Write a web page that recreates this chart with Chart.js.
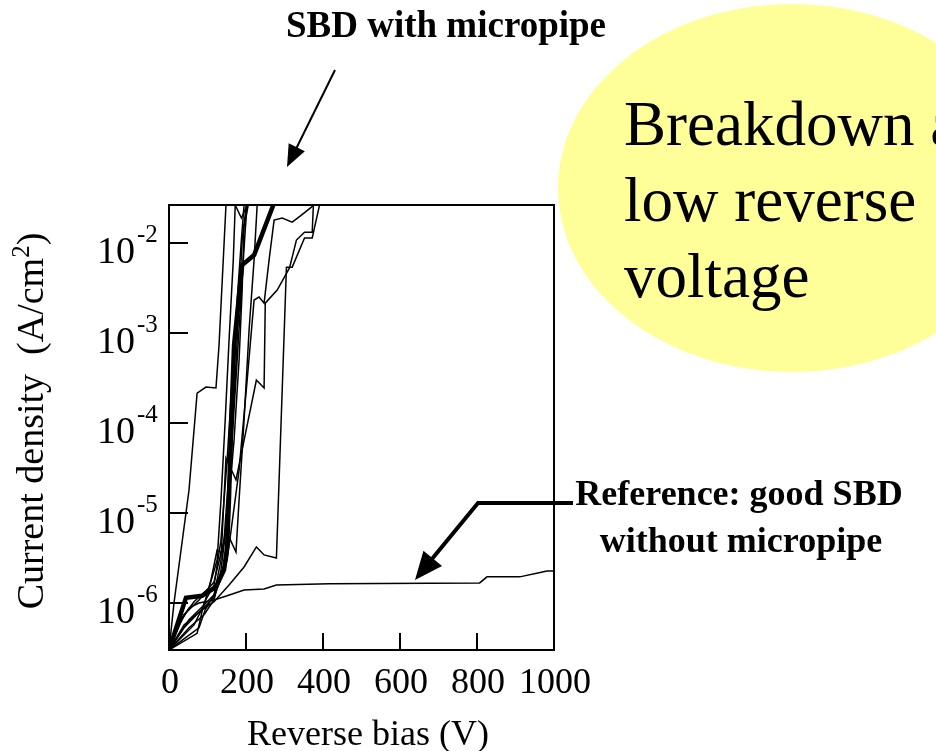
<!DOCTYPE html>
<html>
<head>
<meta charset="utf-8">
<script src="https://cdn.jsdelivr.net/npm/chart.js@4.4.1/dist/chart.umd.min.js"></script>
<style>
  html,body{margin:0;padding:0;background:#fff;}
  canvas{display:block;}
</style>
</head>
<body>
<canvas id="iv" width="936" height="751"></canvas>
<script>
/* ---------- data ---------- */
// x: reverse bias (V), y: current density (A/cm2)
const xTicks=[0,200,400,600,800,1000];
const yTicks=[1e-2,1e-3,1e-4,1e-5,1e-6];
const yTickExp=['-2','-3','-4','-5','-6'];

// good SBD without micropipe
const refV=[0,26,52,78,117,151,195,247,279,417,807,826,911,958,982,1000];
const refJ=[3.0e-7,5.7e-7,8.8e-7,1.0e-6,1.08e-6,1.2e-6,1.39e-6,1.43e-6,1.58e-6,1.63e-6,1.67e-6,1.95e-6,1.95e-6,2.15e-6,2.27e-6,2.27e-6];

// SBDs with micropipe (thick one highlighted)
const thkV=[0,44,86,122,143,151,156,161,169,190,221,271];
const thkJ=[3.0e-7,1.14e-6,1.2e-6,1.51e-6,2.33e-6,4.19e-6,1.51e-5,8.36e-5,7.36e-4,5.7e-3,7.36e-3,0.0265];

const aV=[0,13,52,73,96,122,130,148];
const aJ=[3.0e-7,1.0e-6,1.8e-5,2.15e-4,2.51e-4,2.45e-4,7.36e-4,0.0265];

const cV=[0,39,78,117,156,195,227,247,279,305,320,352,372,391];
const cJ=[3.0e-7,5.7e-7,7.9e-7,1.03e-6,1.58e-6,2.51e-6,4.19e-6,3.42e-6,3.16e-6,5.4e-3,5.4e-3,0.0114,0.0114,0.0265];

const dV=[0,52,91,117,135,148,174,227,247,250,281,313,331,352,372,375];
const dJ=[3.0e-7,6.5e-7,9.5e-7,1.23e-6,3.0e-6,4.08e-5,2.33e-5,3.0e-4,2.45e-4,2.15e-3,3.0e-3,5.3e-3,0.0108,0.0132,0.0132,0.0265];

const eV=[0,39,78,117,151,182,203,221,234,247,260,273,294,320,344,370,375];
const eJ=[3.0e-7,5.3e-7,7.9e-7,1.14e-6,3.0e-6,3.0e-5,3.0e-4,2.33e-3,2.51e-3,2.15e-3,6.5e-3,0.018,0.019,0.0171,0.0205,0.0251,0.0265];

const gV=[0,26,65,104,125,135,146,156,167,172];
const gJ=[3.0e-7,6.15e-7,1.03e-6,1.47e-6,3.0e-6,1.39e-5,1.08e-4,8.36e-4,6.5e-3,0.0265];

const hV=[0,39,78,117,143,156,172,182,190,201];
const hJ=[3.0e-7,7.4e-7,1.08e-6,1.71e-6,5.0e-6,3.0e-5,3.0e-4,2.33e-3,0.0108,0.0265];

const iV=[0,52,91,117,135,151,169,182,190,195,206];
const iJ=[3.0e-7,5.3e-7,7.4e-7,1.08e-6,2.33e-6,8.36e-6,6.5e-5,5.0e-4,3.0e-3,0.0158,0.0265];

const jV=[0,73,91,117,135,151,164,177,188,195];
const jJ=[3.0e-7,4.6e-7,1.0e-6,1.58e-6,5.0e-6,3.88e-5,3.0e-4,2.33e-3,0.0108,0.0265];

const kV=[0,65,91,109,125,138,151,164,177,188,198,203];
const kJ=[3.0e-7,5.7e-7,9.5e-7,1.8e-6,3.88e-6,3.6e-6,8.36e-6,6.5e-5,5.0e-4,3.0e-3,0.0139,0.0265];

const mV=[0,52,78,94,117,143,156,174,182,195,208,221,229];
const mJ=[3.0e-7,4.4e-7,5.3e-7,8.4e-7,1.23e-6,2.64e-6,5.4e-6,3.69e-6,1.39e-5,1.08e-4,1.08e-3,6.5e-3,0.0265];

// top "V" where one curve leaves and re-enters the range
const vV=[172,188,203];
const vJ=[0.0265,0.019,0.0265];

/* ---------- chart ---------- */
const SERIF='"Liberation Serif","Times New Roman",Times,serif';
const pts=(v,j)=>v.map((x,k)=>({x,y:j[k]}));
function curve(v,j,w){
  return {data:pts(v,j),showLine:true,borderColor:'#000',borderWidth:w||1.5,pointRadius:0,tension:0,fill:false,clip:0};
}
const datasets=[
  curve(refV,refJ),curve(aV,aJ),curve(cV,cJ),curve(dV,dJ),curve(eV,eJ),
  curve(gV,gJ),curve(hV,hJ),curve(iV,iJ),curve(jV,jJ),curve(kV,kJ),curve(mV,mJ),curve(vV,vJ),
  curve(thkV,thkJ,4.5)
];

function arrowHead(ctx,tx,ty,fx,fy,len,half){
  const dx=tx-fx,dy=ty-fy,l=Math.hypot(dx,dy),ux=dx/l,uy=dy/l;
  const bx=tx-ux*len,by=ty-uy*len;
  ctx.beginPath();
  ctx.moveTo(tx,ty);
  ctx.lineTo(bx-uy*half,by+ux*half);
  ctx.lineTo(bx+uy*half,by-ux*half);
  ctx.closePath();ctx.fill();
}

const deco={
  id:'deco',
  beforeDraw(chart){
    const ctx=chart.ctx;
    ctx.save();
    ctx.fillStyle='#fff';ctx.fillRect(0,0,chart.width,chart.height);
    // yellow bubble
    ctx.fillStyle='#FFFF99';
    ctx.beginPath();ctx.ellipse(792,188,234,184,0,0,Math.PI*2);ctx.fill();
    ctx.fillStyle='#000';
    ctx.font='63px '+SERIF;ctx.textAlign='left';ctx.textBaseline='alphabetic';
    ctx.fillText('Breakdown at',624,145);
    ctx.fillText('low reverse',624,221);
    ctx.fillText('voltage',624,297);
    ctx.restore();
  },
  afterDraw(chart){
    const ctx=chart.ctx,a=chart.chartArea,xs=chart.scales.x,ys=chart.scales.y;
    ctx.save();
    ctx.strokeStyle='#000';ctx.fillStyle='#000';ctx.lineWidth=2;
    ctx.strokeRect(a.left,a.top,a.right-a.left,a.bottom-a.top);
    // inward ticks
    ctx.beginPath();
    xTicks.forEach(v=>{const px=xs.getPixelForValue(v);ctx.moveTo(px,a.bottom);ctx.lineTo(px,a.bottom-17);});
    yTicks.forEach(v=>{const py=ys.getPixelForValue(v);ctx.moveTo(a.left,py);ctx.lineTo(a.left+19,py);});
    ctx.stroke();
    // x tick labels
    ctx.font='36px '+SERIF;ctx.textAlign='center';ctx.textBaseline='alphabetic';
    xTicks.forEach(v=>ctx.fillText(String(v),xs.getPixelForValue(v)+1,693));
    // y tick labels 10^n
    yTicks.forEach((v,k)=>{
      const py=ys.getPixelForValue(v);
      ctx.font='38px '+SERIF;ctx.textAlign='right';
      ctx.fillText('10',135,py+20);
      ctx.font='25px '+SERIF;ctx.textAlign='left';
      ctx.fillText(yTickExp[k],137,py-1);
    });
    // axis titles
    ctx.font='36px '+SERIF;ctx.textAlign='center';
    ctx.fillText('Reverse bias (V)',368,745);
    ctx.save();
    ctx.translate(43,421);ctx.rotate(-Math.PI/2);
    const p1='Current density  (A/cm',p2='2',p3=')';
    ctx.font='38px '+SERIF;const w1=ctx.measureText(p1).width,w3=ctx.measureText(p3).width;
    ctx.font='25px '+SERIF;const w2=ctx.measureText(p2).width;
    let x0=-(w1+w2+w3)/2;
    ctx.textAlign='left';
    ctx.font='38px '+SERIF;ctx.fillText(p1,x0,0);
    ctx.font='25px '+SERIF;ctx.fillText(p2,x0+w1,-14);
    ctx.font='38px '+SERIF;ctx.fillText(p3,x0+w1+w2,0);
    ctx.restore();
    // annotations
    ctx.font='bold 37px '+SERIF;ctx.textAlign='center';
    ctx.fillText('SBD with micropipe',446,37);
    ctx.font='bold 36px '+SERIF;
    ctx.fillText('Reference: good SBD',739,505);
    ctx.fillText('without micropipe',741,552);
    ctx.lineWidth=2;
    ctx.beginPath();ctx.moveTo(335,70);ctx.lineTo(294,153);ctx.stroke();
    arrowHead(ctx,287,167,335,70,22,9);
    ctx.lineWidth=4;ctx.lineJoin='miter';
    ctx.beginPath();ctx.moveTo(573,503);ctx.lineTo(478,503);ctx.lineTo(427,565);ctx.stroke();
    arrowHead(ctx,415,580,478,503,28,12);
    ctx.restore();
  }
};

new Chart(document.getElementById('iv'),{
  type:'scatter',
  data:{datasets},
  options:{
    responsive:false,animation:false,devicePixelRatio:1,
    layout:{padding:{left:169,top:205,right:382,bottom:101}},
    plugins:{legend:{display:false},tooltip:{enabled:false}},
    scales:{
      x:{type:'linear',min:0,max:1000,display:false},
      y:{type:'logarithmic',min:3e-7,max:0.0265,display:false}
    }
  },
  plugins:[deco]
});
</script>
</body>
</html>
